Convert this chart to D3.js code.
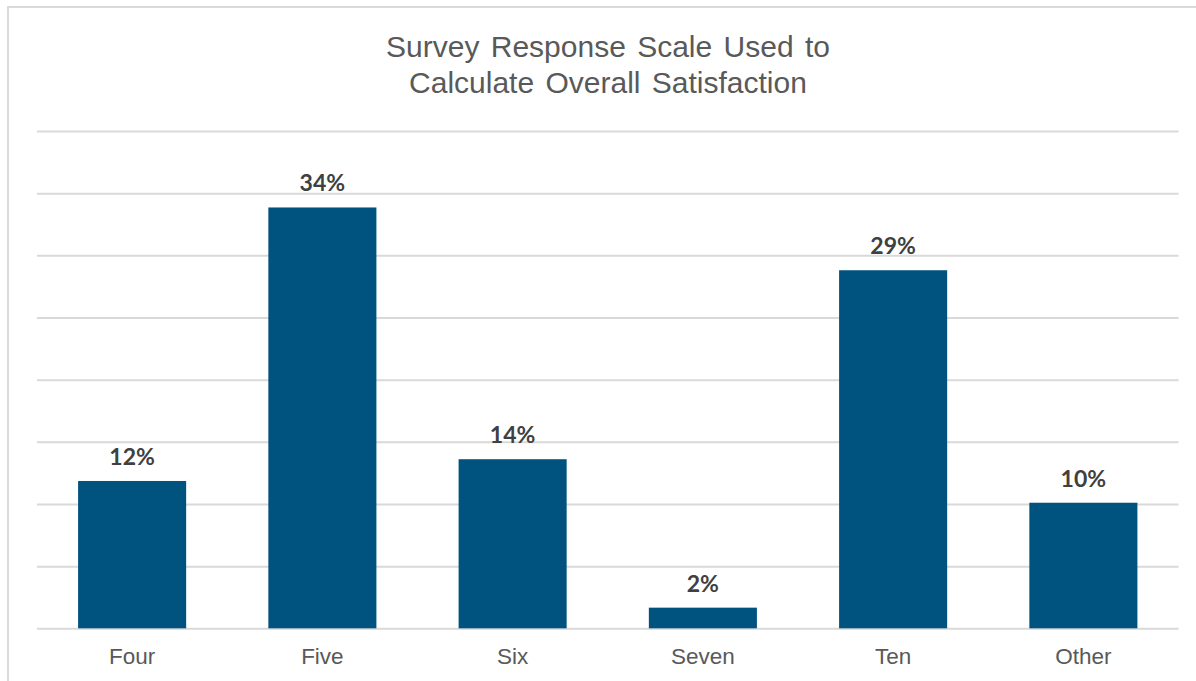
<!DOCTYPE html>
<html>
<head>
<meta charset="utf-8">
<script src="https://cdn.jsdelivr.net/npm/d3@7/dist/d3.min.js"></script>
<style>
  body { margin: 0; background: #fff; }
  svg { display: block; }
</style>
</head>
<body>
<svg id="chart"></svg>
<script>
var categories = ["Four", "Five", "Six", "Seven", "Ten", "Other"];
var shares = [11.85, 33.85, 13.6, 1.66, 28.8, 10.1];
var yTicks = [0, 5, 10, 15, 20, 25, 30, 35, 40];
var titleLines = ["Survey Response Scale Used to", "Calculate Overall Satisfaction"];

var width = 1196, height = 681;
var svg = d3.select("#chart")
    .attr("width", width)
    .attr("height", height)
    .style("font-family", "Liberation Sans, Arial, sans-serif");

// outer frame, only top and left edges show
svg.append("rect")
    .attr("x", 8).attr("y", 7)
    .attr("width", width + 20).attr("height", height + 20)
    .attr("fill", "none")
    .attr("stroke", "#d9d9d9")
    .attr("stroke-width", 2);

var x = d3.scaleBand()
    .domain(categories)
    .range([37, 1178.5])
    .paddingInner(0.432)
    .paddingOuter(0.216);

var y = d3.scaleLinear()
    .domain([0, 40])
    .range([628.3, 131]);

// gridlines
var grid = svg.append("g")
    .attr("transform", "translate(37,0)")
    .call(d3.axisLeft(y).tickValues(yTicks).tickSize(-(1178.5 - 37)).tickFormat(""));
grid.select(".domain").remove();
grid.selectAll("line").attr("stroke", "#d9d9d9").attr("stroke-width", 2);

// bars
svg.selectAll(".bar")
    .data(shares)
    .enter().append("rect")
    .attr("class", "bar")
    .attr("x", function(d, i) { return x(categories[i]); })
    .attr("y", function(d) { return y(d); })
    .attr("width", x.bandwidth())
    .attr("height", function(d) { return y(0) - y(d); })
    .attr("fill", "#00537f");

// value labels
svg.selectAll(".val")
    .data(shares)
    .enter().append("text")
    .attr("class", "val")
    .attr("x", function(d, i) { return x(categories[i]) + x.bandwidth() / 2; })
    .attr("y", function(d) { return y(d) - 16; })
    .attr("text-anchor", "middle")
    .style("font-family", "Lato, sans-serif")
    .style("font-weight", "bold")
    .style("font-size", "23px")
    .attr("fill", "#404040")
    .text(function(d) { return Math.round(d) + "%"; });

// category axis
var xa = svg.append("g")
    .attr("transform", "translate(0," + y(0) + ")")
    .call(d3.axisBottom(x).tickSize(0).tickPadding(20));
xa.select(".domain").remove();
xa.selectAll("text")
    .style("font-family", "Liberation Sans, Arial, sans-serif")
    .style("font-size", "22.5px")
    .attr("fill", "#595959");

// title
svg.append("text")
    .attr("text-anchor", "middle")
    .attr("fill", "#595959")
    .style("font-size", "30px")
    .style("word-spacing", "3px")
    .selectAll("tspan")
    .data(titleLines)
    .enter().append("tspan")
    .attr("x", 608)
    .attr("y", function(d, i) { return 57 + i * 36; })
    .text(function(d) { return d; });
</script>
</body>
</html>
